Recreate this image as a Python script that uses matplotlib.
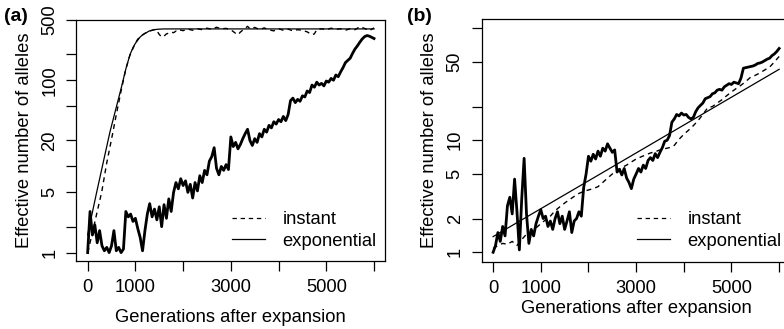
import matplotlib
matplotlib.use("Agg")
import matplotlib.pyplot as plt
from matplotlib.lines import Line2D
import numpy as np

plt.rcParams['font.family'] = ['Liberation Sans', 'DejaVu Sans']

# ---------------- Panel (a) data ----------------
a_thick_x = list(range(0, 6001, 50))
a_thick_y = [1.0, 3.0, 1.6, 2.1, 1.3, 1.8, 1.2, 1.05, 1.15, 1.0,
             1.2, 1.8, 1.05, 1.15, 1.0, 1.1, 3.0, 2.6, 2.8, 2.3,
             2.5, 1.9, 1.5, 1.05, 1.8, 2.8, 3.7, 2.6, 3.2, 2.4,
             3.4, 2.0, 3.6, 2.5, 4.2, 3.0, 5.0, 6.5, 5.5, 7.2,
             6.0, 6.8, 5.0, 6.2, 4.3, 6.5, 5.2, 7.8, 6.5, 9.0,
             8.0, 11.5, 13.0, 16.5, 9.5, 8.0, 10.0, 9.0, 10.5, 9.2,
             22, 17, 19, 16, 18, 21, 24, 27, 20, 17.5,
             21, 19, 24, 22, 27, 25, 30, 28, 33, 31,
             35, 33, 38, 34, 40, 58, 62, 55, 60, 57,
             66, 64, 75, 72, 88, 83, 95, 88, 92, 86,
             98, 95, 105, 100, 115, 110, 125, 140, 160, 170,
             180, 205, 230, 250, 275, 300, 320, 330, 325, 315,
             305]

a_inst_x = [0, 100, 200, 293, 400, 523, 600, 700, 800, 885, 1000, 1050, 1100,
            1150, 1200, 1250, 1300, 1350, 1400, 1450, 1500, 1550, 1600, 1650,
            1700, 1750, 1800, 1850, 1900, 1950, 2000, 2100, 2200, 2300, 2400,
            2500, 2600, 2700, 2800, 2900, 3000, 3100, 3150, 3200, 3300, 3350,
            3400, 3500, 3600, 3700, 3800, 3900, 4000, 4100, 4200, 4300, 4400,
            4500, 4600, 4700, 4750, 4800, 4900, 5000, 5100, 5200, 5300, 5400,
            5500, 5600, 5700, 5800, 5900, 6000]
a_inst_y = [1.0, 1.7, 3.0, 5.0, 11, 24, 40, 75, 135, 195, 270, 300, 320,
            335, 350, 362, 372, 380, 388, 375, 340, 318, 325, 345,
            352, 362, 356, 372, 366, 382, 376, 392, 380, 396, 386,
            402, 390, 412, 395, 400, 385, 350, 338, 362, 402, 422,
            396, 410, 388, 405, 384, 374, 396, 380, 392, 374, 386,
            380, 364, 338, 345, 386, 396, 384, 402, 390, 396, 380,
            396, 386, 418, 400, 376, 405]

a_exp_x = [0, 35, 188, 466, 700, 800, 885, 950, 1000, 1100, 1163, 1300, 1450, 1600, 6000]
a_exp_y = [1.6, 2.0, 5.0, 25, 80, 135, 197, 240, 268, 318, 340, 375, 390, 394, 394]

# ---------------- Panel (b) data ----------------
b_thick_x = list(range(0, 6001, 50))
b_thick_y = [1.0, 1.15, 1.5, 1.25, 1.7, 1.4, 2.6, 3.1, 2.2, 4.5,
             2.3, 1.05, 3.0, 6.9, 2.2, 1.2, 1.6, 1.4, 1.8, 2.1,
             2.4, 2.0, 2.1, 1.7, 1.9, 1.6, 2.0, 2.3, 1.8, 2.1,
             1.6, 1.9, 2.3, 1.5, 1.9, 2.0, 2.3, 2.1, 3.8, 5.0,
             7.2, 6.5, 7.5, 6.8, 8.0, 7.2, 8.5, 8.0, 9.3, 8.5,
             7.8, 8.2, 5.2, 5.5, 4.9, 5.6, 4.6, 4.2, 3.7, 4.5,
             5.0, 5.6, 5.2, 6.0, 5.6, 6.6, 7.0, 6.6, 7.6, 7.0,
             7.8, 8.6, 9.8, 10.0, 11.0, 14.5, 15.5, 17.0, 16.5, 17.5,
             16.8, 17.0, 16.0, 15.5, 16.0, 18.0, 19.5, 20.5, 21.5, 23.5,
             24.0, 24.5, 26.0, 26.5, 28.0, 28.5, 28.0, 30.0, 31.0, 32.0,
             31.5, 33.0, 32.5, 32.0, 36.0, 44.0, 44.5, 45.0, 45.5, 46.0,
             47.0, 48.5, 49.0, 50.0, 51.5, 53.0, 54.0, 57.0, 59.0, 62.0,
             66.0]

b_inst_x = list(range(0, 6001, 100))
b_inst_y = [1.08, 1.15, 1.2, 1.18, 1.25, 1.15, 1.3, 1.45, 1.5, 1.65,
            1.8, 1.95, 2.1, 2.35, 2.55, 2.75, 2.95, 3.15, 3.35, 3.5,
            3.6, 3.7, 3.85, 4.2, 4.6, 5.0, 5.4, 5.7, 6.0, 6.4,
            6.8, 7.1, 7.4, 7.7, 7.9, 8.2, 8.4, 8.6, 9.0, 10.2,
            11.3, 12.3, 13.5, 15.0, 17.0, 19.5, 20.0, 21.5, 23.0, 25.0,
            27.0, 29.0, 31.0, 33.5, 36.5, 38.0, 40.0, 42.5, 45.0, 50.0,
            56.0]

b_exp_x = [0, 6000]
b_exp_y = [1.38, 43]

# tick definitions
x_ticks = [0, 1000, 2000, 3000, 4000, 5000, 6000]
x_ticklabels = ['0', '1000', '', '3000', '', '5000', '']
a_yticks = [1, 2, 5, 10, 20, 50, 100, 200, 500]
a_yticklabels = ['1', '', '5', '', '20', '', '100', '', '500']
b_yticks = [1, 2, 5, 10, 20, 50, 100]
b_yticklabels = ['1', '2', '5', '10', '', '50', '']

FS = 13.2
fig = plt.figure(figsize=(7.84, 3.29), dpi=100)
axa = fig.add_axes([0.0972, 0.2058, 0.3945, 0.7334])
axb = fig.add_axes([0.6144, 0.2046, 0.394, 0.7377])

dash = (3.5, 3.0)

def style(ax, yticks, ylabels, ylim, xlabelpad, legx):
    ax.set_yscale('log')
    ax.set_xlim(-240, 6240)
    ax.set_ylim(*ylim)
    ax.set_xticks(x_ticks)
    ax.set_xticklabels(x_ticklabels, fontsize=FS)
    ax.set_yticks(yticks)
    ax.set_yticklabels(ylabels, fontsize=FS, rotation=90, va='center')
    ax.yaxis.set_minor_locator(matplotlib.ticker.NullLocator())
    ax.tick_params(axis='both', direction='out', length=7.5, width=0.9,
                   color='black', pad=5.5)
    for s in ax.spines.values():
        s.set_linewidth(0.9)
    ax.set_xlabel('Generations after expansion', fontsize=FS, labelpad=xlabelpad)
    ax.set_ylabel('Effective number of alleles', fontsize=FS, labelpad=6)
    handles = [Line2D([], [], color='black', lw=0.9, linestyle=(0, dash)),
               Line2D([], [], color='black', lw=0.9)]
    ax.legend(handles, ['instant', 'exponential'], loc='upper left',
              bbox_to_anchor=(legx, 0.208), frameon=False, fontsize=FS,
              handlelength=1.8, handletextpad=0.95, labelspacing=0.25,
              borderpad=0, borderaxespad=0)

# panel a
axa.plot(a_inst_x, a_inst_y, color='black', lw=1.0, linestyle=(0, dash))
axa.plot(a_exp_x, a_exp_y, color='black', lw=0.9)
axa.plot(a_thick_x, a_thick_y, color='black', lw=2.0)
style(axa, a_yticks, a_yticklabels, (0.793, 500), 9, 0.504)

# panel b
axb.plot(b_inst_x, b_inst_y, color='black', lw=1.0, linestyle=(0, dash))
axb.plot(b_exp_x, b_exp_y, color='black', lw=0.9)
axb.plot(b_thick_x, b_thick_y, color='black', lw=2.0)
style(axb, b_yticks, b_yticklabels, (0.824, 121), 2, 0.503)

fig.text(0.005, 0.975, '(a)', fontsize=14, fontweight='bold', va='top', ha='left')
fig.text(0.519, 0.975, '(b)', fontsize=14, fontweight='bold', va='top', ha='left')

fig.savefig('out.png', dpi=100)
